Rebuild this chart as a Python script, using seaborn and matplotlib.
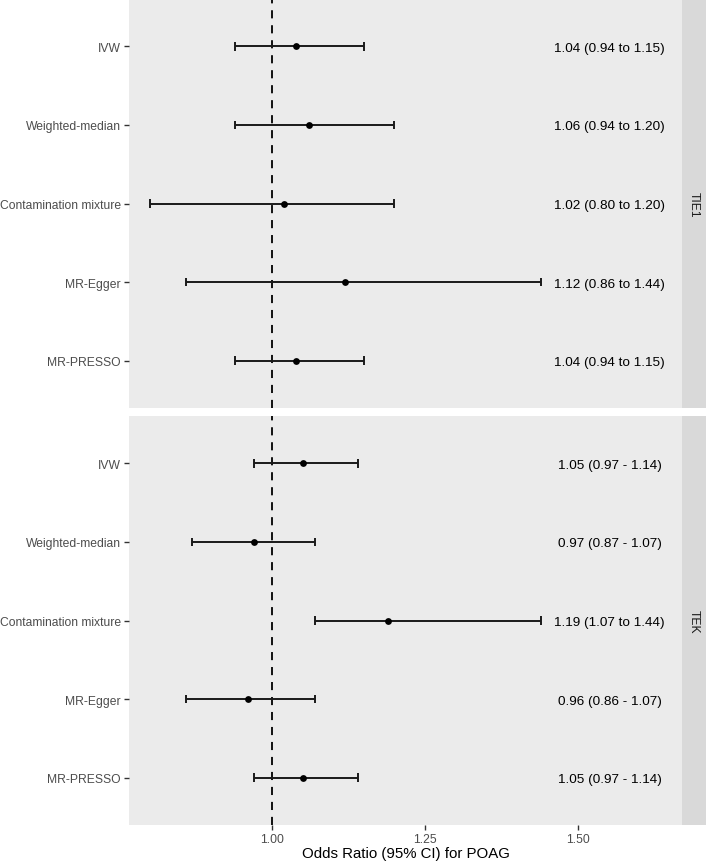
import matplotlib
matplotlib.use("Agg")
import matplotlib.pyplot as plt
import seaborn as sns
import pandas as pd

methods = ["IVW", "Weighted-median", "Contamination mixture", "MR-Egger", "MR-PRESSO"]

tie1_or = [1.04, 1.06, 1.02, 1.12, 1.04]
tie1_lo = [0.94, 0.94, 0.80, 0.86, 0.94]
tie1_hi = [1.15, 1.20, 1.20, 1.44, 1.15]
tie1_lab = ["1.04 (0.94 to 1.15)", "1.06 (0.94 to 1.20)", "1.02 (0.80 to 1.20)",
            "1.12 (0.86 to 1.44)", "1.04 (0.94 to 1.15)"]

tek_or = [1.05, 0.97, 1.19, 0.96, 1.05]
tek_lo = [0.97, 0.87, 1.07, 0.86, 0.97]
tek_hi = [1.14, 1.07, 1.44, 1.07, 1.14]
tek_lab = ["1.05 (0.97 - 1.14)", "0.97 (0.87 - 1.07)", "1.19 (1.07 to 1.44)",
           "0.96 (0.86 - 1.07)", "1.05 (0.97 - 1.14)"]

panels = ["TIE1", "TEK"]
xticks = [1.00, 1.25, 1.50]
xtick_labels = ["1.00", "1.25", "1.50"]
xlabel = "Odds Ratio (95% CI) for POAG"
label_x = 1.552

sns.set_theme(style="white")
plt.rcParams["font.family"] = ["Liberation Sans", "DejaVu Sans"]

W, H = 708, 862
fig = plt.figure(figsize=(W / 100, H / 100), dpi=100)

panel_left, panel_right = 129, 682
strip_w = 24
boxes = [(0, 409), (417, 826)]
data = [(tie1_or, tie1_lo, tie1_hi, tie1_lab), (tek_or, tek_lo, tek_hi, tek_lab)]

for i, (name, (top, bot), (orv, lo, hi, lab)) in enumerate(zip(panels, boxes, data)):
    rect = [panel_left / W, 1 - bot / H, (panel_right - panel_left) / W, (bot - top) / H]
    ax = fig.add_axes(rect)
    ax.set_facecolor("#EBEBEB")
    for s in ax.spines.values():
        s.set_visible(False)
    df = pd.DataFrame({"method": methods, "or": orv, "lo": lo, "hi": hi, "lab": lab})
    df["pos"] = range(len(methods))
    ax.axvline(1.0, color="black", lw=1.3, ls=(0, (4.5, 3.8)), zorder=1)
    ax.hlines(df["pos"], df["lo"], df["hi"], color="#1a1a1a", lw=1.4, zorder=2)
    ax.vlines(df["lo"], df["pos"] - 0.055, df["pos"] + 0.055, color="#1a1a1a", lw=1.4, zorder=2)
    ax.vlines(df["hi"], df["pos"] - 0.055, df["pos"] + 0.055, color="#1a1a1a", lw=1.4, zorder=2)
    sns.scatterplot(data=df, x="or", y="pos", color="black", s=24, edgecolor="black",
                    linewidth=0, zorder=3, ax=ax, legend=False)
    for _, r in df.iterrows():
        ax.text(label_x, r["pos"] + 0.02, r["lab"], ha="center", va="center",
                fontsize=9.7, color="black")
    ax.set_xlim(0.7663, 1.670)
    ax.set_ylim(len(methods) - 1 + 0.6, -0.6)
    ax.set_yticks(df["pos"])
    ax.set_yticklabels(methods, fontsize=8.7, color="#4D4D4D")
    ax.tick_params(axis="y", length=3.5, width=1, color="#333333", pad=2.5, left=True)
    ax.set_ylabel("")
    ax.set_xticks(xticks)
    if i == len(panels) - 1:
        ax.set_xticklabels(xtick_labels, fontsize=8.7, color="#4D4D4D")
        ax.tick_params(axis="x", length=3.5, width=1, color="#333333", pad=2, bottom=True)
        ax.set_xlabel(xlabel, fontsize=10.8, color="black", labelpad=1)
    else:
        ax.set_xticklabels([])
        ax.tick_params(axis="x", length=0)
        ax.set_xlabel("")
    ax.grid(False)

    sax = fig.add_axes([panel_right / W, 1 - bot / H, strip_w / W, (bot - top) / H])
    sax.set_facecolor("#D9D9D9")
    for s in sax.spines.values():
        s.set_visible(False)
    sax.set_xticks([])
    sax.set_yticks([])
    sax.text(0.5, 0.5, name, rotation=-90, ha="center", va="center",
             fontsize=8.7, color="#1A1A1A", transform=sax.transAxes)

fig.savefig("out.png", dpi=100, facecolor="white")
